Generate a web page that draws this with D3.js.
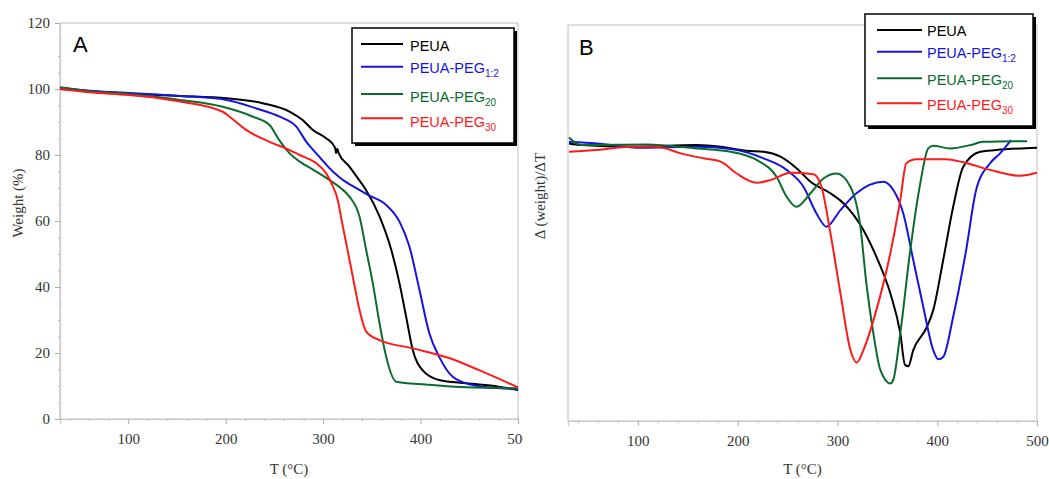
<!DOCTYPE html>
<html><head><meta charset="utf-8">
<script src="https://cdn.jsdelivr.net/npm/d3@7"></script>
<style>body{margin:0;background:#fff}</style>
</head><body>
<svg id="c" width="1049" height="479"></svg>
<script>
// ---------- data ----------
const seriesNames  = ["PEUA", "PEUA-PEG", "PEUA-PEG", "PEUA-PEG"];
const seriesSubs   = ["", "1:2", "20", "30"];
const seriesColors = ["#000000", "#1414e0", "#0b6b2c", "#ff1a1a"];
const xTickValues  = [100, 200, 300, 400, 500];
const yTickValuesA = [0, 20, 40, 60, 80, 100, 120];

// Panel A: TGA, [T (°C), weight %]
const tgaPEUA = [[30,100],[60,99.4],[100,98.6],[130,98.2],[153,97.9],[201,97.2],[238,95.7],[266,93.1],[279,90.6],[289.5,87.6],[303,85.1],[312,82.4],[313.5,80.6],[314.5,81.9],[316,80.6],[327,76.5],[337,72.4],[344,69.4],[358,61.3],[370,51.2],[378.4,41.1],[385.2,31],[392,20.9],[402,14.8],[419,11.8],[447,10.8],[480,9.8],[500,8.8]];
const tgaPEG12 = [[30,100.3],[60,99.5],[100,98.8],[130,98.3],[153,97.9],[201,96.7],[231.5,94.1],[255.4,91.6],[272.5,88.6],[282.8,84],[293,80.5],[302,77.5],[310,75],[320,72.5],[335,69.8],[346,67.9],[365,64.8],[378.4,59.8],[388.6,52.2],[398.9,39.1],[409,26],[419,18.9],[433,12.8],[453.5,10.3],[475,9.5],[500,9.2]];
const tgaPEG20 = [[30,100.5],[60,99.3],[100,98.5],[130,97.6],[153,96.7],[197,94.6],[228,91.6],[245,89.1],[255,84.5],[265.7,80.5],[276,78],[290,75.5],[306.6,72.4],[318,70],[327,67.4],[337.4,61.3],[344.2,51.2],[351,41.1],[357.9,29],[364.7,18.9],[375,11.3],[412.5,10.3],[446.7,9.6],[500,9.3]];
const tgaPEG30 = [[30,100],[60,99],[100,98.2],[130,97.3],[153,96.2],[197,93.1],[204,91.6],[221,87.6],[245,84],[265.7,81.5],[276,80],[293,77.5],[303,74.5],[310,70.5],[314,67.5],[320.3,58.3],[330.5,43.1],[337.4,33],[344.2,26.5],[358,23.9],[392,21.4],[430,18.4],[460,14.8],[500,9.6]];

// Panel B: DTG, [T (°C), Δ(weight)/ΔT, arbitrary units]
const dtgPEUA = [[31,84.1],[43,83.6],[93,83.1],[159,83.6],[183,83.1],[209,81.9],[226,81.6],[243,80.1],[259,76.6],[273,72.5],[293,69],[306,66],[326,57.9],[339,49.8],[353,38.7],[363,26.6],[367.7,17],[371,16.6],[376,21.5],[389,28.1],[396,33.6],[406,48.8],[416,64.9],[426,77],[443,81.6],[459,82.1],[500,82.8]];
const dtgPEG12 = [[31,84.6],[59,84.1],[103,82.8],[159,83.1],[193,82.4],[226,79.6],[249,76.1],[266,71],[279,62.9],[289,58.9],[303,63.9],[319,69],[346,72.5],[356,70],[366,62.9],[376,48.8],[386,34.6],[396,21.5],[401,18.7],[406,19.4],[416,31.6],[429,51.8],[439,70],[453,78.1],[463,81.1],[474,85.1]];
const dtgPEG20 = [[31,85.9],[43,83.6],[109,83.8],[159,82.6],[193,81.6],[219,79.1],[239,74],[249,68],[259,64.9],[273,69],[286,73.5],[299,75],[313,71],[323,58.9],[329,41.7],[336,26.6],[343,15.5],[353,11.4],[356,12.5],[363,26.6],[373,51.8],[383,72],[391,82.6],[396,83.4],[413,82.6],[433,83.6],[446,84.6],[490,84.8]];
const dtgPEG30 = [[31,81.6],[59,82.1],[93,83.1],[119,83.1],[143,81.1],[166,79.6],[183,78.6],[199,75],[219,72.2],[233,73],[253,75.2],[276,74.8],[284,71],[293,56.9],[303,38.7],[313,21.5],[319.4,17.7],[326,21.5],[339,33.6],[353,50.8],[363,67],[369,78.1],[379,79.3],[409,79.3],[426,78.4],[453,76.1],[483,74.3],[500,75.2]];

const tgaSeries = [tgaPEUA, tgaPEG12, tgaPEG20, tgaPEG30];
const dtgSeries = [dtgPEUA, dtgPEG12, dtgPEG20, dtgPEG30];

// ---------- drawing ----------
const svg = d3.select("#c");
const serif = "'Liberation Serif','Times New Roman',serif";
const sans = "'Liberation Sans',Arial,sans-serif";
const frameCol = "#c9c9c9";

svg.append("defs").append("clipPath").attr("id","clipA")
  .append("rect").attr("x",0).attr("y",0).attr("width",523).attr("height",479);

function panel(cfg){
  const g = svg.append("g");
  const x = d3.scaleLinear().domain([30,500]).range(cfg.xr);
  const y = d3.scaleLinear().domain([0,120]).range(cfg.yr);
  // frame
  g.append("rect").attr("x",cfg.xr[0]).attr("y",cfg.yr[1])
    .attr("width",cfg.xr[1]-cfg.xr[0]).attr("height",cfg.yr[0]-cfg.yr[1])
    .attr("fill","none").attr("stroke",frameCol).attr("stroke-width",1.2);
  // x axis
  const gx = g.append("g").attr("transform",`translate(0,${cfg.yr[0]})`)
    .attr("clip-path", cfg.clip ? "url(#clipA)" : null)
    .call(d3.axisBottom(x).tickValues(xTickValues).tickSize(5).tickPadding(9).tickFormat(d3.format("d")));
  gx.select(".domain").attr("stroke",frameCol).attr("stroke-width",1.2);
  gx.selectAll(".tick line").attr("stroke","#aaa");
  gx.selectAll(".tick text").attr("font-family",serif).attr("font-size",15).attr("fill","#333");
  const gxm = g.append("g").attr("transform",`translate(0,${cfg.yr[0]})`)
    .call(d3.axisBottom(x).tickValues(d3.range(40,500,20).filter(v=>v%100!==0)).tickSize(2).tickFormat(""));
  gxm.select(".domain").remove();
  gxm.selectAll(".tick line").attr("stroke","#bbb");
  // y axis
  if (cfg.yTicks){
    const gy = g.append("g").attr("transform",`translate(${cfg.xr[0]},0)`)
      .call(d3.axisLeft(y).tickValues(yTickValuesA).tickSize(5).tickPadding(5));
    gy.select(".domain").attr("stroke",frameCol).attr("stroke-width",1.2);
    gy.selectAll(".tick line").attr("stroke","#aaa");
    gy.selectAll(".tick text").attr("font-family",serif).attr("font-size",15).attr("fill","#333");
    const gym = g.append("g").attr("transform",`translate(${cfg.xr[0]},0)`)
      .call(d3.axisLeft(y).tickValues(d3.range(5,120,5).filter(v=>v%20!==0)).tickSize(2).tickFormat(""));
    gym.select(".domain").remove();
    gym.selectAll(".tick line").attr("stroke","#bbb");
  }
  // curves
  const line = d3.line().x(d=>x(d[0])).y(d=>y(d[1])).curve(d3.curveMonotoneX);
  cfg.data.forEach((s,i)=>{
    g.append("path").datum(s).attr("d",line).attr("fill","none")
      .attr("stroke",seriesColors[i]).attr("stroke-width",2).attr("stroke-linejoin","round");
  });
  // titles
  g.append("text").attr("x",(cfg.xr[0]+cfg.xr[1])/2).attr("y",474).attr("text-anchor","middle")
    .attr("font-family",serif).attr("font-size",15).attr("fill","#333").text("T (°C)");
  g.append("text").attr("transform",`translate(${cfg.ylx},${cfg.yly}) rotate(-90)`).attr("text-anchor","middle")
    .attr("font-family",serif).attr("font-size",15).attr("fill","#333").text(cfg.ylabel);
  g.append("text").attr("x",cfg.letter[0]).attr("y",cfg.letter[1]).attr("font-family",sans)
    .attr("font-size",22).attr("fill","#000").text(cfg.letterText);
  // legend
  const L = cfg.legend;
  g.append("rect").attr("x",L.x+3).attr("y",L.y+3).attr("width",L.w).attr("height",L.h).attr("fill","#000");
  g.append("rect").attr("x",L.x).attr("y",L.y).attr("width",L.w).attr("height",L.h)
    .attr("fill","#fff").attr("stroke","#000").attr("stroke-width",1.5);
  seriesNames.forEach((nm,i)=>{
    g.append("line").attr("x1",L.lx1).attr("x2",L.lx2).attr("y1",L.ly[i]).attr("y2",L.ly[i])
      .attr("stroke",seriesColors[i]).attr("stroke-width",2);
    const t = g.append("text").attr("x",L.tx).attr("y",L.ty[i]).attr("font-family",sans)
      .attr("font-size",14.5).attr("fill",seriesColors[i]);
    t.append("tspan").text(nm);
    if (seriesSubs[i]) t.append("tspan").attr("dy",4).attr("font-size",10).text(seriesSubs[i]);
  });
}

panel({xr:[60,518], yr:[419,23], data:tgaSeries, yTicks:true, clip:true,
  ylabel:"Weight (%)", ylx:23, yly:203, letter:[73,52], letterText:"A",
  legend:{x:352,y:28,w:162,h:115,lx1:361,lx2:403,tx:410,ly:[44,66.7,94,118.3],ty:[51,72.7,101.7,126.7]}});

panel({xr:[568,1037], yr:[421,25], data:dtgSeries, yTicks:false, clip:false,
  ylabel:"Δ (weight)/ΔT", ylx:545, yly:196, letter:[579,55], letterText:"B",
  legend:{x:865,y:14,w:168,h:112,lx1:877,lx2:922,tx:927,ly:[30,51.7,78.3,103.3],ty:[36,58.3,85,110]}});
</script>
</body></html>
